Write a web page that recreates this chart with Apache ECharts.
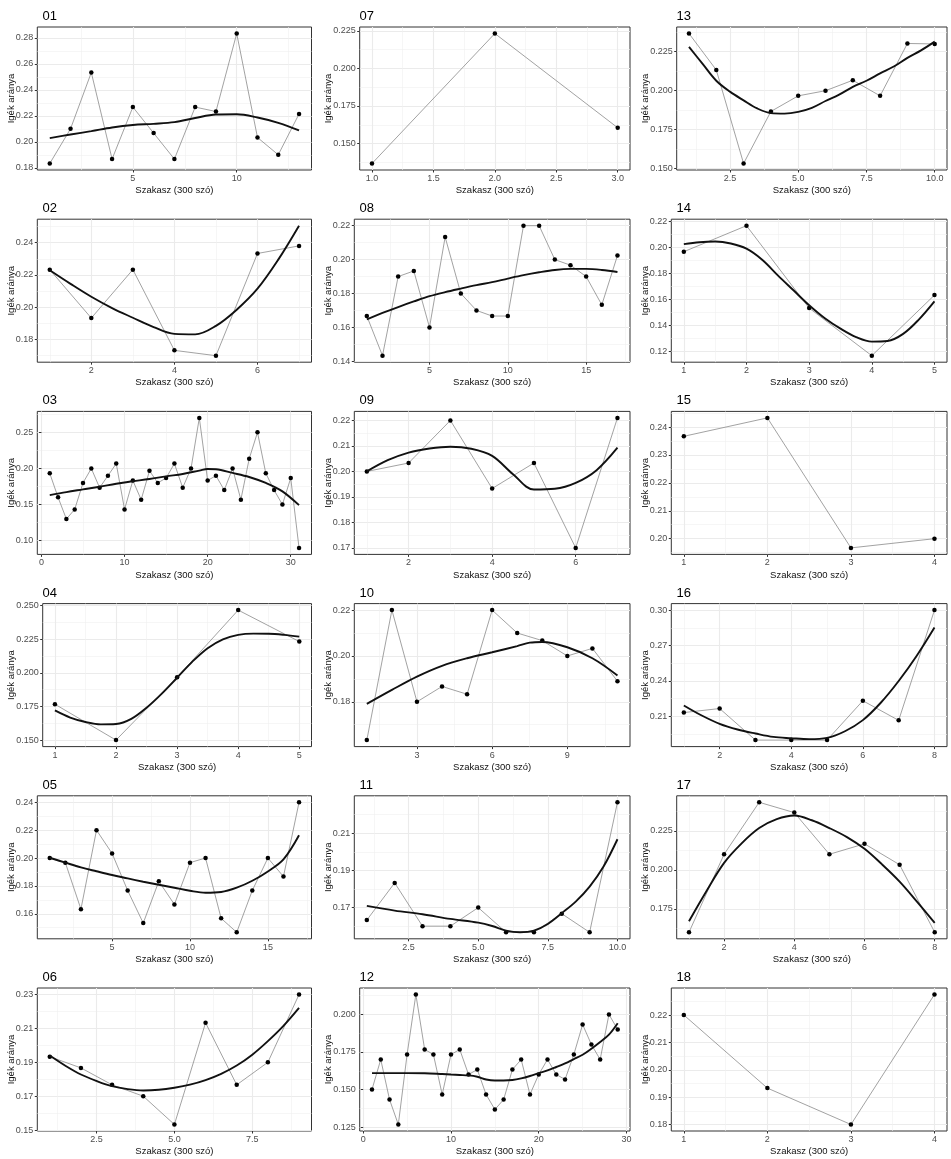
<!DOCTYPE html>
<html><head><meta charset="utf-8">
<script src="https://cdn.jsdelivr.net/npm/echarts@6.0.0/dist/echarts.min.js"></script>
<style>html,body{margin:0;padding:0;background:#fff}#c{width:951px;height:1159px}</style>
</head><body><div id="c"></div>
<script>
// ---------- data ----------
const titles = ['01','02','03','04','05','06','07','08','09','10','11','12','13','14','15','16','17','18'];
const xTitle = 'Szakasz (300 szó)';
const yTitle = 'Igék aránya';

const v01 = [0.1833,0.21,0.2533,0.1867,0.2267,0.2067,0.1867,0.2267,0.2233,0.2833,0.2033,0.19,0.2214];
const s01 = [[1,0.2028],[2,0.2056],[3,0.2082],[4,0.2110],[5,0.2129],[6,0.2138],[7,0.2151],[8,0.2183],[9,0.2210],[10,0.2212],[11,0.2187],[12,0.2146],[13,0.2087]];
const xt01 = [5,10]; const yt01 = [0.18,0.20,0.22,0.24,0.26,0.28];

const v02 = [0.2233,0.1933,0.2233,0.1733,0.17,0.2333,0.238];
const s02 = [[1,0.2229],[1.5,0.2145],[2,0.2065],[2.5,0.1995],[3,0.1935],[3.5,0.1877],[4,0.1835],[4.5,0.1832],[5,0.1885],[5.5,0.1985],[6,0.2115],[6.5,0.2295],[7,0.2505]];
const xt02 = [2,4,6]; const yt02 = [0.18,0.20,0.22,0.24];

const v03 = [0.1933,0.16,0.13,0.1433,0.18,0.20,0.1733,0.19,0.2067,0.1433,0.1833,0.1567,0.1967,0.18,0.1867,0.2067,0.1733,0.20,0.27,0.1833,0.19,0.17,0.20,0.1567,0.2133,0.25,0.1933,0.17,0.15,0.1867,0.09];
const s03 = [[1,0.1631],[3,0.1673],[5,0.1710],[7,0.1747],[9,0.1789],[11,0.1822],[13,0.1854],[15,0.1891],[17,0.1924],[19,0.1970],[20,0.1993],[21,0.1989],[23,0.1938],[25,0.1882],[27,0.1799],[29,0.1683],[31,0.1492]];
const xt03 = [0,10,20,30]; const yt03 = [0.10,0.15,0.20,0.25];

const v04 = [0.1767,0.15,0.1967,0.2467,0.2233];
const s04 = [[1,0.1721],[1.25,0.1668],[1.5,0.1635],[1.75,0.1617],[2,0.1620],[2.25,0.1658],[2.5,0.1741],[2.75,0.1846],[3,0.1964],[3.25,0.2084],[3.5,0.2184],[3.75,0.2250],[4,0.2283],[4.25,0.2292],[4.5,0.2291],[4.75,0.2283],[5,0.2270]];
const xt04 = [1,2,3,4,5]; const yt04 = [0.150,0.175,0.200,0.225,0.250];

const v05 = [0.20,0.1967,0.1633,0.22,0.2033,0.1767,0.1533,0.1833,0.1667,0.1967,0.20,0.1567,0.1467,0.1767,0.20,0.1867,0.24];
const s05 = [[1,0.2002],[2,0.1967],[3,0.1933],[4,0.1905],[5,0.1878],[6,0.1854],[7,0.1830],[8,0.1808],[9,0.1787],[10,0.1765],[11,0.1751],[12,0.1756],[13,0.1787],[14,0.1837],[15,0.1904],[16,0.1990],[17,0.2163]];
const xt05 = [5,10,15]; const yt05 = [0.16,0.18,0.20,0.22,0.24];

const v06 = [0.1933,0.1867,0.1767,0.17,0.1533,0.2133,0.1767,0.19,0.23];
const s06 = [[1,0.1940],[1.5,0.1880],[2,0.1828],[2.5,0.1790],[3,0.1759],[3.5,0.1742],[4,0.1734],[4.5,0.1738],[5,0.1750],[5.5,0.1768],[6,0.1795],[6.5,0.1832],[7,0.1881],[7.5,0.1945],[8,0.2025],[8.5,0.2115],[9,0.2221]];
const xt06 = [2.5,5,7.5]; const yt06 = [0.15,0.17,0.19,0.21,0.23];

const v07 = [0.1367,0.2233,0.1605];
const s07 = null;
const xt07 = [1,1.5,2,2.5,3]; const yt07 = [0.150,0.175,0.200,0.225];

const v08 = [0.1667,0.1433,0.19,0.1933,0.16,0.2133,0.18,0.17,0.1667,0.1667,0.22,0.22,0.20,0.1967,0.19,0.1733,0.2024];
const s08 = [[1,0.1647],[2,0.1685],[3,0.1720],[4,0.1753],[5,0.1784],[6,0.1808],[7,0.1829],[8,0.1849],[9,0.1867],[10,0.1888],[11,0.1908],[12,0.1925],[13,0.1939],[14,0.1945],[15,0.1945],[16,0.1939],[17,0.1927]];
const xt08 = [5,10,15]; const yt08 = [0.14,0.16,0.18,0.20,0.22];

const v09 = [0.20,0.2033,0.22,0.1933,0.2033,0.17,0.221];
const s09 = [[1,0.2000],[1.5,0.2044],[2,0.2074],[2.5,0.2090],[3,0.2097],[3.5,0.2089],[4,0.2061],[4.5,0.1989],[5,0.1929],[5.5,0.1932],[6,0.1955],[6.5,0.2005],[7,0.2093]];
const xt09 = [2,4,6]; const yt09 = [0.17,0.18,0.19,0.20,0.21,0.22];

const v10 = [0.1633,0.22,0.18,0.1867,0.1833,0.22,0.21,0.2067,0.20,0.2033,0.189];
const s10 = [[1,0.1791],[2,0.1852],[3,0.1910],[4,0.1957],[5,0.1990],[6,0.2016],[7,0.2043],[7.5,0.2058],[8,0.2061],[9,0.2038],[10,0.1990],[11,0.1915]];
const xt10 = [3,6,9]; const yt10 = [0.18,0.20,0.22];

const v11 = [0.1633,0.1833,0.16,0.16,0.17,0.1567,0.1567,0.1667,0.1567,0.2267];
const s11 = [[1,0.1709],[2,0.1684],[3,0.1664],[4,0.1639],[5,0.1619],[5.5,0.1601],[6,0.1576],[6.5,0.1567],[7,0.1576],[7.5,0.1612],[8,0.1670],[8.5,0.1732],[9,0.1813],[9.5,0.1921],[10,0.2068]];
const xt11 = [2.5,5,7.5,10]; const yt11 = [0.17,0.19,0.21];

const v12 = [0.15,0.17,0.1433,0.1267,0.1733,0.2133,0.1767,0.1733,0.1467,0.1733,0.1767,0.16,0.1633,0.1467,0.1367,0.1433,0.1633,0.17,0.1467,0.16,0.17,0.16,0.1567,0.1733,0.1933,0.18,0.17,0.20,0.19];
const s12 = [[1,0.1609],[3,0.1609],[5,0.1609],[7,0.1608],[9,0.1603],[10,0.1600],[11,0.1597],[12,0.1594],[13,0.1585],[14,0.1567],[15,0.1560],[16,0.1560],[17,0.1563],[18,0.1574],[19,0.1590],[20,0.1609],[21,0.1627],[22,0.1650],[23,0.1674],[24,0.1703],[25,0.1732],[26,0.1772],[27,0.1817],[28,0.1866],[29,0.1942]];
const xt12 = [0,10,20,30]; const yt12 = [0.125,0.150,0.175,0.200];

const v13 = [0.2367,0.2133,0.1533,0.1867,0.1967,0.20,0.2067,0.1967,0.2303,0.23];
const s13 = [[1,0.2281],[1.5,0.2172],[2,0.2064],[2.5,0.1994],[3,0.1938],[3.5,0.1886],[4,0.1856],[4.5,0.1853],[5,0.1864],[5.5,0.1890],[6,0.1934],[6.5,0.1975],[7,0.2025],[7.5,0.2064],[8,0.2111],[8.5,0.2155],[9,0.2211],[9.5,0.2259],[10,0.2315]];
const xt13 = [2.5,5,7.5,10]; const yt13 = [0.150,0.175,0.200,0.225];

const v14 = [0.1967,0.2167,0.1533,0.1167,0.1633];
const s14 = [[1,0.2025],[1.25,0.2040],[1.5,0.2045],[1.75,0.2030],[2,0.1990],[2.25,0.1905],[2.5,0.1785],[2.75,0.1670],[3,0.1555],[3.25,0.1455],[3.5,0.1375],[3.75,0.1310],[4,0.1275],[4.25,0.1280],[4.5,0.1335],[4.75,0.1445],[5,0.1585]];
const xt14 = [1,2,3,4,5]; const yt14 = [0.12,0.14,0.16,0.18,0.20,0.22];

const v15 = [0.2367,0.2433,0.1967,0.20];
const s15 = null;
const xt15 = [1,2,3,4]; const yt15 = [0.20,0.21,0.22,0.23,0.24];

const v16 = [0.2133,0.2167,0.19,0.19,0.19,0.2233,0.2067,0.30];
const s16 = [[1,0.2193],[1.5,0.2108],[2,0.2038],[2.5,0.1990],[3,0.1956],[3.5,0.1927],[4,0.1916],[4.5,0.1908],[5,0.1919],[5.5,0.1975],[6,0.2069],[6.5,0.2216],[7,0.2400],[7.5,0.2612],[8,0.2853]];
const xt16 = [2,4,6,8]; const yt16 = [0.21,0.24,0.27,0.30];

const v17 = [0.16,0.21,0.2433,0.2367,0.21,0.2167,0.2033,0.16];
const s17 = [[1,0.1671],[1.5,0.1865],[2,0.2045],[2.5,0.2170],[3,0.2268],[3.5,0.2325],[4,0.2348],[4.5,0.2318],[5,0.2268],[5.5,0.2210],[6,0.2135],[6.5,0.2035],[7,0.1925],[7.5,0.1795],[8,0.1660]];
const xt17 = [2,4,6,8]; const yt17 = [0.175,0.200,0.225];

const v18 = [0.22,0.1933,0.18,0.2275];
const s18 = null;
const xt18 = [1,2,3,4]; const yt18 = [0.18,0.19,0.20,0.21,0.22];

// ---------- table built from the arrays ----------
const panels = [
  [v01,s01,xt01,yt01],[v02,s02,xt02,yt02],[v03,s03,xt03,yt03],[v04,s04,xt04,yt04],[v05,s05,xt05,yt05],[v06,s06,xt06,yt06],
  [v07,s07,xt07,yt07],[v08,s08,xt08,yt08],[v09,s09,xt09,yt09],[v10,s10,xt10,yt10],[v11,s11,xt11,yt11],[v12,s12,xt12,yt12],
  [v13,s13,xt13,yt13],[v14,s14,xt14,yt14],[v15,s15,xt15,yt15],[v16,s16,xt16,yt16],[v17,s17,xt17,yt17],[v18,s18,xt18,yt18]
];

// ---------- helpers ----------
const FONT = 'Liberation Sans, Arial, Helvetica, sans-serif';
function decs(arr){let d=0;arr.forEach(v=>{const s=String(v);if(s.indexOf('.')>=0)d=Math.max(d,s.split('.')[1].length);});return d;}
function minors(majors,lo,hi){
  const st = majors[1]-majors[0];
  const ext = [majors[0]-st].concat(majors,[majors[majors.length-1]+st]);
  const out=[];
  for(let i=0;i<ext.length-1;i++){const m=+(((ext[i]+ext[i+1])/2).toFixed(10)); if(m>lo&&m<hi) out.push(m);}
  return out;
}

const colX=[0,317,634], colR=[311.5,630,947];
const grids=[], xAxes=[], yAxes=[], series=[], titleList=[];

panels.forEach((p,i)=>{
  const [vals, sm, xt, yt] = p;
  const col=Math.floor(i/6), row=i%6;
  const n = vals.length;
  const xmin = 1-0.05*(n-1), xmax = n+0.05*(n-1);
  let all = vals.slice(); if(sm) sm.forEach(q=>all.push(q[1]));
  const lo=Math.min(...all), hi=Math.max(...all), r=hi-lo;
  const ymin=lo-0.05*r, ymax=hi+0.05*r;
  const dy=decs(yt), dx=decs(xt);
  const chars=Math.max(...yt.map(v=>v.toFixed(dy).length));
  const leftOff = 37.3 + (chars-4)*5.4;
  const left = colX[col]+leftOff, top = 27+192.2*row, width = colR[col]-left, height = 143;
  grids.push({left:left, top:top, width:width, height:height, show:true, borderColor:'#333333', borderWidth:1, backgroundColor:'rgba(0,0,0,0)', containLabel:false, outerBoundsMode:'none'});
  titleList.push({text:titles[i], left:colX[col]+42.5, top:top-17, padding:0, textStyle:{fontSize:13, fontWeight:'normal', color:'#000', fontFamily:FONT}});
  const gi=i;
  xAxes.push({type:'value', gridIndex:gi, min:xmin, max:xmax, position:'bottom',
    axisLine:{show:false},
    axisTick:{show:true, length:2.5, lineStyle:{color:'#333', width:1}, customValues:xt},
    axisLabel:{show:true, customValues:xt, formatter:v=>Number(v).toFixed(dx), fontSize:9, color:'#4d4d4d', margin:4, fontFamily:FONT},
    splitLine:{show:true, lineStyle:{color:'#ebebeb', width:1.1}},
    name:xTitle, nameLocation:'middle', nameGap:15.5, nameMoveOverlap:false,
    nameTextStyle:{fontSize:9.5, color:'#111', fontFamily:FONT}});
  const xm = minors(xt,xmin,xmax);
  xAxes.push({type:'value', gridIndex:gi, min:xmin, max:xmax, position:'bottom',
    axisLine:{show:false}, axisTick:{show:false, customValues:xm}, axisLabel:{show:false, customValues:xm},
    splitLine:{show:true, lineStyle:{color:'#f0f0f0', width:0.6}}});
  yAxes.push({type:'value', gridIndex:gi, min:ymin, max:ymax, position:'left',
    axisLine:{show:false},
    axisTick:{show:true, length:2.5, lineStyle:{color:'#333', width:1}, customValues:yt},
    axisLabel:{show:true, customValues:yt, formatter:v=>Number(v).toFixed(dy), fontSize:9, color:'#4d4d4d', margin:4, fontFamily:FONT},
    splitLine:{show:true, lineStyle:{color:'#ebebeb', width:1.1}},
    name:yTitle, nameLocation:'middle', nameGap:leftOff-11.7-4.75, nameMoveOverlap:false,
    nameTextStyle:{fontSize:9.5, color:'#111', fontFamily:FONT}});
  const ym = minors(yt,ymin,ymax);
  yAxes.push({type:'value', gridIndex:gi, min:ymin, max:ymax, position:'left',
    axisLine:{show:false}, axisTick:{show:false, customValues:ym}, axisLabel:{show:false, customValues:ym},
    splitLine:{show:true, lineStyle:{color:'#f0f0f0', width:0.6}}});
  series.push({type:'line', xAxisIndex:2*gi, yAxisIndex:2*gi, data:vals.map((v,k)=>[k+1,v]),
    symbol:'circle', symbolSize:4.5, showAllSymbol:true, itemStyle:{color:'#000'},
    lineStyle:{color:'#8a8a8a', width:0.8}, z:3, silent:true, animation:false});
  if(sm){
    series.push({type:'line', xAxisIndex:2*gi, yAxisIndex:2*gi, data:sm, smooth:0.35, symbol:'none', showSymbol:false,
      lineStyle:{color:'#111', width:1.9}, z:4, silent:true, animation:false});
  }
});

const chart = echarts.init(document.getElementById('c'), null, {renderer:'canvas'});
chart.setOption({animation:false, backgroundColor:'#fff', title:titleList, grid:grids, xAxis:xAxes, yAxis:yAxes, series:series});
</script></body></html>
